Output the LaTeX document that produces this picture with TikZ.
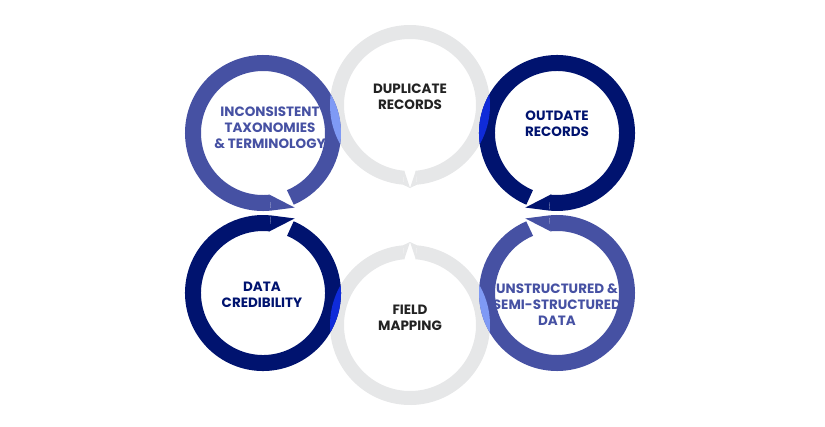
\documentclass[tikz,border=0pt]{standalone}
\usepackage{fontspec}
\setmainfont{Poppins}[UprightFont=* Bold,BoldFont=* Bold]
\definecolor{midblue}{HTML}{4651A3}
\definecolor{navy}{HTML}{00136F}
\definecolor{ringgray}{HTML}{E6E7E8}
\definecolor{lightblue}{HTML}{7F9AF5}
\definecolor{brightblue}{HTML}{0F2BD9}
\definecolor{textmain}{HTML}{222222}
% ring with a gap: centre, colour, radius, width, arc from, arc to
\newcommand{\bubblering}[6]{\draw[#2, line width=#4pt] (#1) ++(#5:#3) arc[start angle=#5, end angle=#6, radius=#3];}
% tail wedge: centre, colour, inner r, outer r, side angle, tip angle
\newcommand{\bubbletail}[6]{\fill[#2] ($(#1)+(#5:#4)$) -- ($(#1)+(#6:#4+3)$) -- ($(#1)+(#5:#3)$) -- cycle;}
\usetikzlibrary{calc}
\begin{document}
\begin{tikzpicture}[x=1pt, y=-1pt,
  label/.style={font=\fontsize{13.5}{16}\selectfont, align=center},
]
\useasboundingbox (0,0) rectangle (825,426);

% Grey bubbles
\coordinate (dupc) at (410,105);
\coordinate (mapc) at (410,325);
\bubblering{dupc}{ringgray}{73}{14}{95}{445}
\bubbletail{dupc}{ringgray}{66}{80}{85}{90}
\bubbletail{dupc}{ringgray}{66}{80}{95}{90}
\bubblering{mapc}{ringgray}{73}{14}{-85}{265}
\bubbletail{mapc}{ringgray}{66}{80}{-85}{-90}
\bubbletail{mapc}{ringgray}{66}{80}{-95}{-90}

% Blue bubbles
\coordinate (taxc) at (263,133);
\coordinate (oldc) at (557,133);
\coordinate (credc) at (263,293);
\coordinate (unsc) at (557,293);
\bubblering{taxc}{midblue}{70}{16}{84}{427}
\bubbletail{taxc}{midblue}{62}{78}{84}{67}
\bubblering{oldc}{navy}{70}{16}{113}{456}
\bubbletail{oldc}{navy}{62}{78}{96}{113}
\bubblering{credc}{navy}{70}{16}{-67}{276}
\bubbletail{credc}{navy}{62}{78}{-84}{-67}
\bubblering{unsc}{midblue}{70}{16}{-96}{247}
\bubbletail{unsc}{midblue}{62}{78}{-96}{-113}

% Overlaps with the grey rings
\begin{scope}
  \clip (dupc) circle (80);
  \bubblering{taxc}{lightblue}{70}{16}{84}{427}
  \bubblering{oldc}{brightblue}{70}{16}{113}{456}
\end{scope}
\begin{scope}
  \clip (mapc) circle (80);
  \bubblering{credc}{brightblue}{70}{16}{-67}{276}
  \bubblering{unsc}{lightblue}{70}{16}{-96}{247}
\end{scope}

% Labels
\node[label, text=midblue] (tax) at (270,128) {INCONSISTENT\\TAXONOMIES\\\& TERMINOLOGY};
\node[label, text=textmain] (dup) at (410,97) {DUPLICATE\\RECORDS};
\node[label, text=navy] (old) at (557,124) {OUTDATE\\RECORDS};
\node[label, text=navy] (cred) at (262,295) {DATA\\CREDIBILITY};
\node[label, text=textmain] (map) at (410,318) {FIELD\\MAPPING};
\node[label, text=midblue] (uns) at (557,305) {UNSTRUCTURED \&\\SEMI-STRUCTURED\\DATA};
\end{tikzpicture}
\end{document}
